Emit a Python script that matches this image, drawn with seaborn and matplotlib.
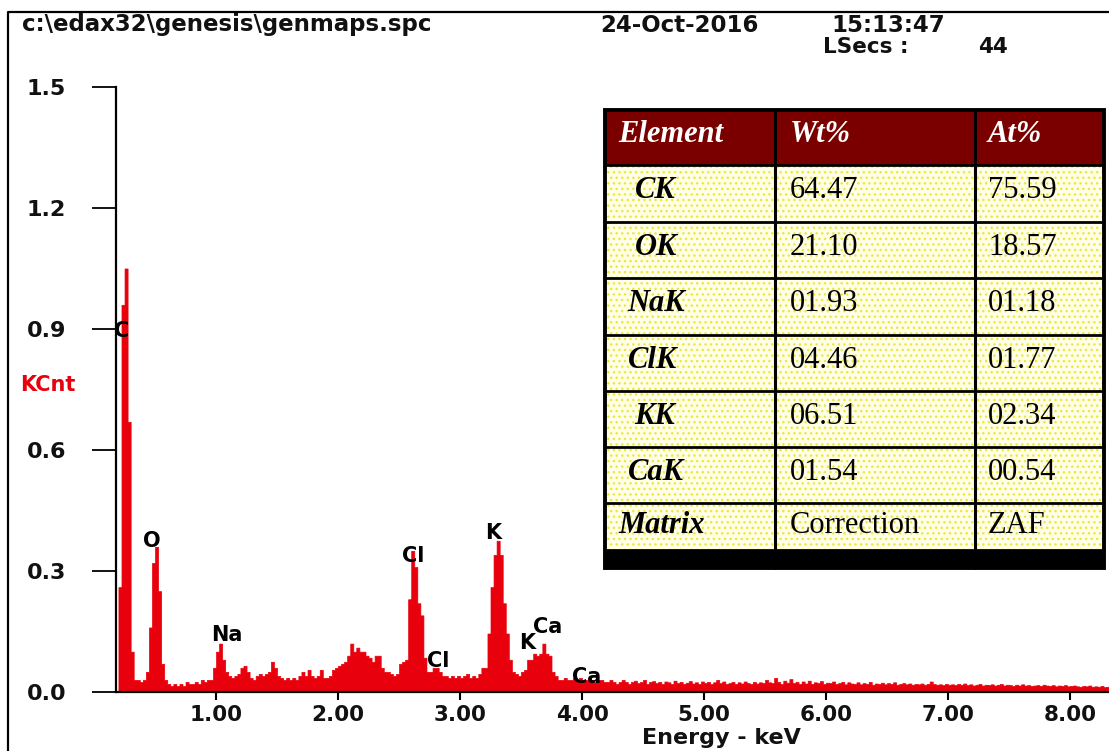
import numpy as np
import pandas as pd
import matplotlib
matplotlib.use("Agg")
import matplotlib.pyplot as plt
from matplotlib.patches import Rectangle
from matplotlib.lines import Line2D
import seaborn as sns

# ---------------- data ----------------
channel_start = 0.200   # keV, left edge of first channel
channel_width = 0.025   # keV

kcnt = [
    # 0.200 - 0.675
    0.26, 0.96, 1.05, 0.67, 0.10, 0.03, 0.03, 0.025, 0.03, 0.05,
    0.16, 0.32, 0.36, 0.25, 0.07, 0.03, 0.02, 0.015, 0.02, 0.015,
    # 0.700 - 1.175
    0.02, 0.015, 0.025, 0.02, 0.02, 0.025, 0.02, 0.03, 0.025, 0.03,
    0.03, 0.06, 0.10, 0.12, 0.08, 0.05, 0.04, 0.035, 0.04, 0.045,
    # 1.200 - 1.675
    0.06, 0.065, 0.05, 0.035, 0.03, 0.04, 0.045, 0.04, 0.045, 0.05,
    0.075, 0.06, 0.04, 0.035, 0.03, 0.035, 0.03, 0.035, 0.03, 0.04,
    # 1.700 - 2.175
    0.05, 0.04, 0.055, 0.04, 0.035, 0.04, 0.055, 0.035, 0.035, 0.04,
    0.055, 0.06, 0.065, 0.07, 0.075, 0.09, 0.12, 0.10, 0.11, 0.10,
    # 2.200 - 2.675
    0.10, 0.09, 0.085, 0.075, 0.09, 0.09, 0.06, 0.05, 0.05, 0.045,
    0.04, 0.045, 0.07, 0.075, 0.08, 0.23, 0.35, 0.31, 0.22, 0.19,
    # 2.700 - 3.175
    0.085, 0.05, 0.05, 0.06, 0.06, 0.05, 0.04, 0.04, 0.035, 0.04,
    0.035, 0.04, 0.035, 0.04, 0.045, 0.035, 0.04, 0.035, 0.045, 0.06,
    # 3.200 - 3.675
    0.06, 0.145, 0.26, 0.34, 0.375, 0.34, 0.22, 0.145, 0.08, 0.05,
    0.045, 0.04, 0.05, 0.055, 0.08, 0.08, 0.095, 0.09, 0.095, 0.12,
    # 3.700 - 4.175
    0.095, 0.09, 0.05, 0.04, 0.03, 0.03, 0.035, 0.03, 0.03, 0.035,
    0.03, 0.035, 0.03, 0.03, 0.035, 0.03, 0.025, 0.03, 0.03, 0.025,
    # 4.200 - 4.675
    0.025, 0.03, 0.025, 0.02, 0.025, 0.03, 0.025, 0.02, 0.025, 0.028,
    0.022, 0.025, 0.03, 0.02, 0.025, 0.027, 0.022, 0.025, 0.02, 0.026,
    # 4.700 - 5.175
    0.024, 0.02, 0.028, 0.022, 0.025, 0.02, 0.023, 0.027, 0.021, 0.024,
    0.02, 0.026, 0.022, 0.025, 0.02, 0.024, 0.03, 0.022, 0.026, 0.02,
    # 5.200 - 5.675
    0.022, 0.025, 0.02, 0.024, 0.021, 0.026, 0.022, 0.02, 0.025, 0.021,
    0.024, 0.022, 0.03, 0.024, 0.022, 0.035, 0.025, 0.02, 0.028, 0.023,
    # 5.700 - 6.175
    0.032, 0.022, 0.025, 0.02, 0.026, 0.021, 0.028, 0.02, 0.024, 0.022,
    0.027, 0.02, 0.023, 0.022, 0.026, 0.02, 0.022, 0.025, 0.019, 0.024,
    # 6.200 - 6.675
    0.021, 0.02, 0.024, 0.019, 0.022, 0.02, 0.025, 0.018, 0.021, 0.02,
    0.023, 0.019, 0.022, 0.02, 0.024, 0.018, 0.02, 0.022, 0.019, 0.021,
    # 6.700 - 7.175
    0.018, 0.02, 0.019, 0.021, 0.018, 0.02, 0.026, 0.02, 0.018, 0.019,
    0.017, 0.02, 0.018, 0.019, 0.017, 0.02, 0.018, 0.021, 0.017, 0.019,
    # 7.200 - 7.675
    0.016, 0.018, 0.02, 0.016, 0.018, 0.017, 0.019, 0.016, 0.018, 0.02,
    0.016, 0.018, 0.017, 0.015, 0.018, 0.016, 0.019, 0.016, 0.017, 0.015,
    # 7.700 - 8.175
    0.016, 0.017, 0.015, 0.018, 0.016, 0.015, 0.017, 0.014, 0.016, 0.015,
    0.017, 0.014, 0.015, 0.016, 0.014, 0.013, 0.015, 0.014, 0.016, 0.013,
    # 8.200 - 8.300
    0.014, 0.013, 0.015, 0.012, 0.013,
]

peak_labels = ["C", "O", "Na", "Cl", "Cl", "K", "K", "Ca", "Ca"]
peak_label_kev = [0.23, 0.475, 1.09, 2.62, 2.82, 3.27, 3.55, 3.72, 4.04]
peak_label_kcnt = [0.895, 0.374, 0.141, 0.337, 0.077, 0.394, 0.121, 0.161, 0.037]

y_ticks = [0.0, 0.3, 0.6, 0.9, 1.2, 1.5]
y_tick_labels = ["0.0", "0.3", "0.6", "0.9", "1.2", "1.5"]
x_ticks = [1, 2, 3, 4, 5, 6, 7, 8]
x_tick_labels = ["1.00", "2.00", "3.00", "4.00", "5.00", "6.00", "7.00", "8.00"]

table_header = ["Element", "Wt%", "At%"]
table_elements = ["CK", "OK", "NaK", "ClK", "KK", "CaK", "Matrix"]
table_wt = ["64.47", "21.10", "01.93", "04.46", "06.51", "01.54", "Correction"]
table_at = ["75.59", "18.57", "01.18", "01.77", "02.34", "00.54", "ZAF"]

header_path = "c:\\edax32\\genesis\\genmaps.spc"
header_date = "24-Oct-2016"
header_time = "15:13:47"
header_lsecs = "LSecs :"
header_lsecs_val = "44"

# ---------------- build frame ----------------
n = len(kcnt)
edges = [float(e) for e in channel_start + channel_width * np.arange(n + 1)]
centers = [(edges[i] + edges[i + 1]) / 2 for i in range(n)]
df = pd.DataFrame({"energy": centers, "kcnt": kcnt})

RED = "#E8000C"
W, H = 1109, 751


def fx(px):
    return px / W


def fy(py):
    return 1 - py / H


sns.set_style("ticks")
plt.rcParams["font.family"] = ["DejaVu Sans"]

fig = plt.figure(figsize=(W / 100, H / 100), dpi=100)
fig.patch.set_facecolor("white")

ax = fig.add_axes([fx(116), fy(692), fx(1109) - fx(116), fy(87) - fy(692)])
sns.histplot(data=df, x="energy", weights="kcnt", bins=edges, element="step",
             fill=True, color=RED, alpha=1.0, linewidth=0.5, edgecolor=RED, ax=ax)
ax.set_xlim(0.18, 8.32)
ax.set_ylim(0, 1.5)
ax.set_xlabel("")
ax.set_ylabel("")
ax.set_facecolor("white")

for s in ["top", "right"]:
    ax.spines[s].set_visible(False)
for s in ["left", "bottom"]:
    ax.spines[s].set_linewidth(1.6)
    ax.spines[s].set_color("black")
ax.spines["bottom"].set_zorder(5)

ax.set_yticks(y_ticks)
ax.set_yticklabels(y_tick_labels)
ax.set_xticks(x_ticks)
ax.set_xticklabels(x_tick_labels)
ax.tick_params(axis="y", direction="out", length=17, width=1.3, pad=19,
               labelsize=16, colors="black")
ax.tick_params(axis="x", direction="out", length=5.5, width=1.5, pad=4,
               labelsize=15.5, colors="black")
for t in ax.get_xticklabels() + ax.get_yticklabels():
    t.set_fontweight("bold")
    t.set_color("#111111")

for lab, e, v in zip(peak_labels, peak_label_kev, peak_label_kcnt):
    ax.text(e, v, lab, ha="center", va="center", fontsize=15,
            fontweight="bold", color="black", clip_on=False, zorder=6)

fig.text(fx(721), fy(738), "Energy - keV", ha="center", va="center",
         fontsize=16, fontweight="bold", color="#111111")
fig.text(fx(20), fy(385), "KCnt", ha="left", va="center",
         fontsize=15, fontweight="bold", color=RED)

# header
fig.text(fx(22), fy(25), header_path, ha="left", va="center",
         fontsize=16.5, fontweight="bold", color="#111111")
fig.text(fx(600), fy(25), header_date, ha="left", va="center",
         fontsize=16.5, fontweight="bold", color="#111111")
fig.text(fx(945), fy(25), header_time, ha="right", va="center",
         fontsize=16.5, fontweight="bold", color="#111111")
fig.text(fx(823), fy(47), header_lsecs, ha="left", va="center",
         fontsize=15.5, fontweight="bold", color="#111111")
fig.text(fx(1008), fy(47), header_lsecs_val, ha="right", va="center",
         fontsize=15.5, fontweight="bold", color="#111111")

# outer frame (top + left)
fig.add_artist(Line2D([fx(8), fx(8), fx(1109)], [0, fy(12), fy(12)],
                      color="black", linewidth=1.6, transform=fig.transFigure))

# ---------------- table ----------------
tx0, tx1, ty0, ty1 = 603, 1107, 108, 570
tax = fig.add_axes([fx(tx0), fy(ty1), fx(tx1) - fx(tx0), fy(ty0) - fy(ty1)])
tax.set_xlim(tx0, tx1)
tax.set_ylim(ty1, ty0)
tax.axis("off")
tax.set_zorder(10)

col_x = [605, 775, 975, 1104]
row_y = [110, 165, 222, 278, 335, 391, 447, 503, 550]
band_bottom = 568

# header background
tax.add_patch(Rectangle((col_x[0], row_y[0]), col_x[-1] - col_x[0], row_y[1] - row_y[0],
                        facecolor="#7A0000", edgecolor="none", zorder=1))
# yellow dotted cells
tax.add_patch(Rectangle((col_x[0], row_y[1]), col_x[-1] - col_x[0], row_y[-1] - row_y[1],
                        facecolor="#FFFFE8", edgecolor="#EEE640", linewidth=0,
                        hatch="...", zorder=1))
# black band
tax.add_patch(Rectangle((col_x[0], row_y[-1]), col_x[-1] - col_x[0], band_bottom - row_y[-1],
                        facecolor="black", edgecolor="none", zorder=2))

# grid lines
for yy in row_y[1:-1]:
    tax.plot([col_x[0], col_x[-1]], [yy, yy], color="black", lw=2.0, zorder=3)
tax.plot([col_x[0], col_x[-1]], [row_y[-1], row_y[-1]], color="black", lw=2.0, zorder=3)
for xx in col_x[1:-1]:
    tax.plot([xx, xx], [row_y[0], band_bottom], color="black", lw=2.2, zorder=3)
tax.add_patch(Rectangle((col_x[0], row_y[0]), col_x[-1] - col_x[0], band_bottom - row_y[0],
                        facecolor="none", edgecolor="black", linewidth=2.8, zorder=4))

serif = ["Liberation Serif", "DejaVu Serif"]
tax.text(618, row_y[0] + 32, table_header[0], ha="left", va="baseline", fontsize=22,
         family=serif, fontweight="bold", fontstyle="italic", color="white", zorder=5)
tax.text(790, row_y[0] + 32, table_header[1], ha="left", va="baseline", fontsize=22,
         family=serif, fontweight="bold", fontstyle="italic", color="white", zorder=5)
tax.text(988, row_y[0] + 32, table_header[2], ha="left", va="baseline", fontsize=22,
         family=serif, fontweight="bold", fontstyle="italic", color="white", zorder=5)

elem_x = [635, 635, 627, 628, 634, 628, 618]
for i, (el, wt, at) in enumerate(zip(table_elements, table_wt, table_at)):
    top = row_y[i + 1]
    base = top + (30 if i == len(table_elements) - 1 else 33)
    tax.text(elem_x[i], base, el, ha="left", va="baseline", fontsize=22, family=serif,
             fontweight="bold", fontstyle="italic", color="black", zorder=5)
    tax.text(790, base, wt, ha="left", va="baseline", fontsize=22, family=serif,
             color="black", zorder=5)
    tax.text(988, base, at, ha="left", va="baseline", fontsize=22, family=serif,
             color="black", zorder=5)

fig.savefig("out.png", dpi=100, facecolor="white")
